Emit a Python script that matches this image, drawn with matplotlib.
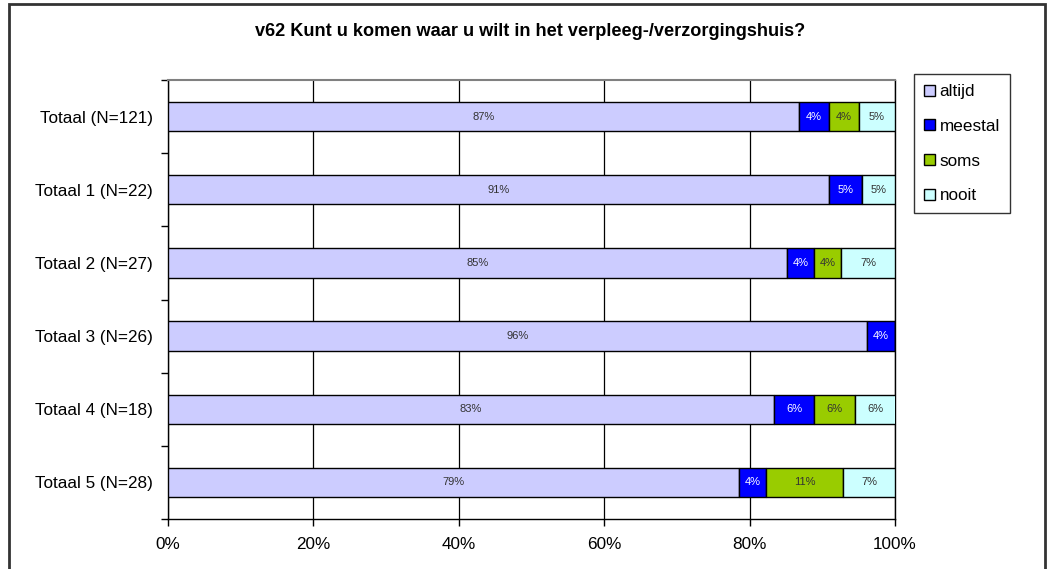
import numpy as np
import matplotlib.pyplot as plt
from matplotlib.patches import Rectangle
from matplotlib.ticker import FixedLocator, PercentFormatter

plt.rcParams['font.family'] = ['Liberation Sans', 'DejaVu Sans']

title = 'v62 Kunt u komen waar u wilt in het verpleeg-/verzorgingshuis?'
groups = ['Totaal (N=121)', 'Totaal 1 (N=22)', 'Totaal 2 (N=27)',
          'Totaal 3 (N=26)', 'Totaal 4 (N=18)', 'Totaal 5 (N=28)']
answers = ['altijd', 'meestal', 'soms', 'nooit']

# aandeel per antwoord (fractie van N)
altijd = [0.868, 0.909, 0.852, 0.962, 0.833, 0.786]
meestal = [0.041, 0.0455, 0.037, 0.038, 0.056, 0.036]
soms = [0.041, 0.000, 0.037, 0.000, 0.056, 0.107]
nooit = [0.050, 0.0455, 0.074, 0.000, 0.056, 0.071]

colors = ['#CCCCFF', '#0000FF', '#99CC00', '#CCFFFF']
text_colors = ['#333333', 'white', '#333333', '#333333']

fig = plt.figure(figsize=(10.53, 5.69), dpi=100)
ax = fig.add_axes([168 / 1053, 1 - 519 / 569, (895 - 168) / 1053, (519 - 80) / 569])

y = np.arange(len(groups))
left = np.zeros(len(groups))
handles = []
for name, vals, col, tcol in zip(answers, [altijd, meestal, soms, nooit], colors, text_colors):
    vals = np.array(vals)
    bars = ax.barh(y, vals, left=left, height=0.4, color=col,
                   edgecolor='black', linewidth=1.0, zorder=3, label=name)
    handles.append(bars)
    for yi, l, v in zip(y, left, vals):
        if v > 0:
            ax.text(l + v / 2, yi, f'{v * 100:.0f}%', ha='center', va='center',
                    fontsize=8, color=tcol, zorder=4)
    left += vals

ax.set_xlim(0, 1)
ax.set_ylim(len(groups) - 0.5, -0.5)
ax.xaxis.set_major_locator(FixedLocator([0, 0.2, 0.4, 0.6, 0.8, 1.0]))
ax.xaxis.set_major_formatter(PercentFormatter(1.0, decimals=0))
ax.set_yticks(y)
ax.set_yticklabels(groups)
ax.yaxis.set_minor_locator(FixedLocator(np.arange(len(groups) + 1) - 0.5))
ax.tick_params(axis='y', which='major', length=0, pad=11, labelsize=12.3)
ax.tick_params(axis='y', which='minor', length=5, width=1, direction='out')
ax.tick_params(axis='x', length=5, width=1, direction='out', pad=8, labelsize=12.3)

ax.grid(axis='x', color='black', linewidth=0.9, zorder=1)
for side in ['left', 'bottom', 'right']:
    ax.spines[side].set_color('black')
    ax.spines[side].set_linewidth(1.0)
ax.spines['top'].set_color('#808080')
ax.spines['top'].set_linewidth(1.5)

fig.text(530 / 1053, 1 - 31 / 569, title, ha='center', va='center',
         fontsize=13.1, fontweight='bold')

leg = fig.legend(handles=handles, labels=answers, loc='upper left',
                 bbox_to_anchor=(914 / 1053, 1 - 74 / 569),
                 frameon=True, fancybox=False, fontsize=12.3,
                 handlelength=0.6, handleheight=0.6, handletextpad=0.3,
                 labelspacing=1.15, borderpad=0.6, borderaxespad=0)
leg.get_frame().set_edgecolor('black')
leg.get_frame().set_linewidth(1.0)

# kader rond de hele grafiek
fig.add_artist(Rectangle((9 / 1053, -0.02), (1045 - 9) / 1053, 1.02 - 4 / 569,
                         transform=fig.transFigure, fill=False,
                         edgecolor='#333333', linewidth=2))

fig.savefig('out.png', dpi=100)
